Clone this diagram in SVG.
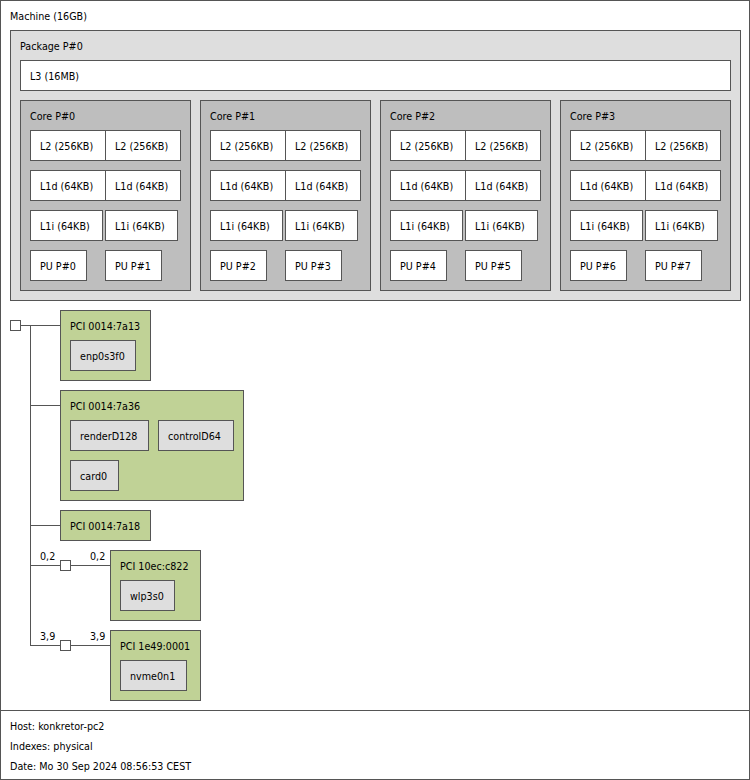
<svg xmlns="http://www.w3.org/2000/svg" width="750" height="780" viewBox="0 0 750 780">
<style>
rect{stroke:#555;stroke-width:1;shape-rendering:crispEdges}
line{stroke:#555;stroke-width:1;shape-rendering:crispEdges}
text{font-family:"DejaVu Sans","Liberation Sans",sans-serif;font-size:9.6px;fill:#000}
.m{fill:#fff}
.pk{fill:#dedede}
.co{fill:#bebebe}
.ca{fill:#fff}
.pu{fill:#fff}
.pci{fill:#c0d296}
.os{fill:#dedede}
.br{fill:#fff}
</style>
<g id="machine"><rect class="m" x="0" y="0" width="749" height="710"/><text x="10" y="20">Machine (16GB)</text></g>
<g id="package0"><rect class="pk" x="10" y="30" width="730" height="270"/><text x="20" y="50">Package P#0</text></g>
<g id="l3"><rect class="ca" x="20" y="60" width="710" height="30"/><text x="30" y="80">L3 (16MB)</text></g>

<g id="core0"><rect class="co" x="20" y="100" width="170" height="190"/><text x="30" y="120">Core P#0</text></g>
<g id="core0-l2a"><rect class="ca" x="30" y="130" width="75" height="30"/><text x="40" y="150">L2 (256KB)</text></g>
<g id="core0-l2b"><rect class="ca" x="105" y="130" width="75" height="30"/><text x="115" y="150">L2 (256KB)</text></g>
<g id="core0-l1da"><rect class="ca" x="30" y="170" width="75" height="30"/><text x="40" y="190">L1d (64KB)</text></g>
<g id="core0-l1db"><rect class="ca" x="105" y="170" width="75" height="30"/><text x="115" y="190">L1d (64KB)</text></g>
<g id="core0-l1ia"><rect class="ca" x="30" y="210" width="72" height="30"/><text x="40" y="230">L1i (64KB)</text></g>
<g id="core0-l1ib"><rect class="ca" x="105" y="210" width="72" height="30"/><text x="115" y="230">L1i (64KB)</text></g>
<g id="pu0"><rect class="pu" x="30" y="250" width="56" height="30"/><text x="40" y="270">PU P#0</text></g>
<g id="pu1"><rect class="pu" x="105" y="250" width="56" height="30"/><text x="115" y="270">PU P#1</text></g>

<g id="core1"><rect class="co" x="200" y="100" width="170" height="190"/><text x="210" y="120">Core P#1</text></g>
<g id="core1-l2a"><rect class="ca" x="210" y="130" width="75" height="30"/><text x="220" y="150">L2 (256KB)</text></g>
<g id="core1-l2b"><rect class="ca" x="285" y="130" width="75" height="30"/><text x="295" y="150">L2 (256KB)</text></g>
<g id="core1-l1da"><rect class="ca" x="210" y="170" width="75" height="30"/><text x="220" y="190">L1d (64KB)</text></g>
<g id="core1-l1db"><rect class="ca" x="285" y="170" width="75" height="30"/><text x="295" y="190">L1d (64KB)</text></g>
<g id="core1-l1ia"><rect class="ca" x="210" y="210" width="72" height="30"/><text x="220" y="230">L1i (64KB)</text></g>
<g id="core1-l1ib"><rect class="ca" x="285" y="210" width="72" height="30"/><text x="295" y="230">L1i (64KB)</text></g>
<g id="pu2"><rect class="pu" x="210" y="250" width="56" height="30"/><text x="220" y="270">PU P#2</text></g>
<g id="pu3"><rect class="pu" x="285" y="250" width="56" height="30"/><text x="295" y="270">PU P#3</text></g>

<g id="core2"><rect class="co" x="380" y="100" width="170" height="190"/><text x="390" y="120">Core P#2</text></g>
<g id="core2-l2a"><rect class="ca" x="390" y="130" width="75" height="30"/><text x="400" y="150">L2 (256KB)</text></g>
<g id="core2-l2b"><rect class="ca" x="465" y="130" width="75" height="30"/><text x="475" y="150">L2 (256KB)</text></g>
<g id="core2-l1da"><rect class="ca" x="390" y="170" width="75" height="30"/><text x="400" y="190">L1d (64KB)</text></g>
<g id="core2-l1db"><rect class="ca" x="465" y="170" width="75" height="30"/><text x="475" y="190">L1d (64KB)</text></g>
<g id="core2-l1ia"><rect class="ca" x="390" y="210" width="72" height="30"/><text x="400" y="230">L1i (64KB)</text></g>
<g id="core2-l1ib"><rect class="ca" x="465" y="210" width="72" height="30"/><text x="475" y="230">L1i (64KB)</text></g>
<g id="pu4"><rect class="pu" x="390" y="250" width="56" height="30"/><text x="400" y="270">PU P#4</text></g>
<g id="pu5"><rect class="pu" x="465" y="250" width="56" height="30"/><text x="475" y="270">PU P#5</text></g>

<g id="core3"><rect class="co" x="560" y="100" width="170" height="190"/><text x="570" y="120">Core P#3</text></g>
<g id="core3-l2a"><rect class="ca" x="570" y="130" width="75" height="30"/><text x="580" y="150">L2 (256KB)</text></g>
<g id="core3-l2b"><rect class="ca" x="645" y="130" width="75" height="30"/><text x="655" y="150">L2 (256KB)</text></g>
<g id="core3-l1da"><rect class="ca" x="570" y="170" width="75" height="30"/><text x="580" y="190">L1d (64KB)</text></g>
<g id="core3-l1db"><rect class="ca" x="645" y="170" width="75" height="30"/><text x="655" y="190">L1d (64KB)</text></g>
<g id="core3-l1ia"><rect class="ca" x="570" y="210" width="72" height="30"/><text x="580" y="230">L1i (64KB)</text></g>
<g id="core3-l1ib"><rect class="ca" x="645" y="210" width="72" height="30"/><text x="655" y="230">L1i (64KB)</text></g>
<g id="pu6"><rect class="pu" x="570" y="250" width="56" height="30"/><text x="580" y="270">PU P#6</text></g>
<g id="pu7"><rect class="pu" x="645" y="250" width="56" height="30"/><text x="655" y="270">PU P#7</text></g>

<g id="connectors">
<line x1="20" y1="325" x2="60" y2="325"/>
<line x1="30" y1="325" x2="30" y2="645"/>
<line x1="30" y1="405" x2="60" y2="405"/>
<line x1="30" y1="525" x2="60" y2="525"/>
<line x1="30" y1="565" x2="60" y2="565"/>
<line x1="70" y1="565" x2="110" y2="565"/>
<line x1="30" y1="645" x2="60" y2="645"/>
<line x1="70" y1="645" x2="110" y2="645"/>
<text x="40" y="560">0,2</text>
<text x="90" y="560">0,2</text>
<text x="40" y="640">3,9</text>
<text x="90" y="640">3,9</text>
</g>

<g id="hostbridge"><rect class="br" x="10" y="320" width="10" height="10"/></g>
<g id="bridge1"><rect class="br" x="60" y="560" width="10" height="10"/></g>
<g id="bridge2"><rect class="br" x="60" y="640" width="10" height="10"/></g>

<g id="pci-7a13"><rect class="pci" x="60" y="310" width="90" height="70"/><text x="70" y="330">PCI 0014:7a13</text></g>
<g id="enp0s3f0"><rect class="os" x="70" y="340" width="65" height="30"/><text x="80" y="360">enp0s3f0</text></g>

<g id="pci-7a36"><rect class="pci" x="60" y="390" width="183" height="110"/><text x="70" y="410">PCI 0014:7a36</text></g>
<g id="renderD128"><rect class="os" x="70" y="420" width="78" height="30"/><text x="80" y="440">renderD128</text></g>
<g id="controlD64"><rect class="os" x="158" y="420" width="75" height="30"/><text x="168" y="440">controlD64</text></g>
<g id="card0"><rect class="os" x="70" y="460" width="48" height="30"/><text x="80" y="480">card0</text></g>

<g id="pci-7a18"><rect class="pci" x="60" y="510" width="90" height="30"/><text x="70" y="530">PCI 0014:7a18</text></g>

<g id="pci-c822"><rect class="pci" x="110" y="550" width="90" height="70"/><text x="120" y="570">PCI 10ec:c822</text></g>
<g id="wlp3s0"><rect class="os" x="120" y="580" width="54" height="30"/><text x="130" y="600">wlp3s0</text></g>

<g id="pci-0001"><rect class="pci" x="110" y="630" width="90" height="70"/><text x="120" y="650">PCI 1e49:0001</text></g>
<g id="nvme0n1"><rect class="os" x="120" y="660" width="66" height="30"/><text x="130" y="680">nvme0n1</text></g>

<g id="legend"><rect class="m" x="0" y="710" width="749" height="69"/>
<text x="10" y="730">Host: konkretor-pc2</text>
<text x="10" y="750">Indexes: physical</text>
<text x="10" y="770">Date: Mo 30 Sep 2024 08:56:53 CEST</text>
</g>
</svg>
